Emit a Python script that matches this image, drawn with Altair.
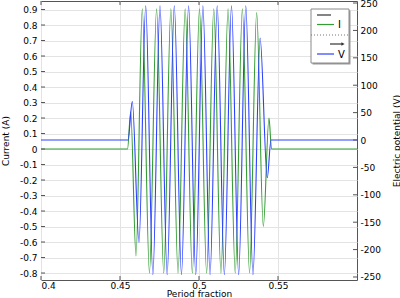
import altair as alt
import pandas as pd

# ---- data ----
t_current = [0.4, 0.45475, 0.45677, 0.46013, 0.4641, 0.46863, 0.47315, 0.47768, 0.4822,
             0.48673, 0.49125, 0.49578, 0.5003, 0.50483, 0.50935, 0.51388, 0.5184,
             0.52293, 0.52745, 0.53198, 0.5365, 0.5407, 0.5443, 0.5459, 0.6]
current = [0.0, 0.0, 0.24, -0.69, 0.905, -0.80, 0.905, -0.80, 0.905,
           -0.80, 0.905, -0.80, 0.905, -0.80, 0.905, -0.80, 0.905,
           -0.80, 0.905, -0.80, 0.88, -0.50, 0.20, 0.0, 0.0]

t_voltage = [0.4, 0.45506, 0.45778, 0.46203, 0.46627, 0.4708, 0.47532, 0.47985, 0.48437,
             0.4889, 0.49342, 0.49795, 0.50247, 0.507, 0.51152, 0.51605, 0.52057,
             0.5251, 0.52962, 0.53415, 0.53867, 0.5432, 0.54557, 0.6]
voltage = [0, 0, 70, -187, 245, -246, 245, -246, 245,
           -246, 245, -246, 245, -246, 245, -246, 245,
           -246, 245, -246, 186, -69, 0, 0]

x_ticks = [0.4, 0.45, 0.5, 0.55]
i_ticks = [-0.8, -0.7, -0.6, -0.5, -0.4, -0.3, -0.2, -0.1, 0, 0.1, 0.2, 0.3, 0.4, 0.5, 0.6, 0.7, 0.8, 0.9]
v_ticks = [-250, -200, -150, -100, -50, 0, 50, 100, 150, 200, 250]
legend_labels = ["I", "V"]

# ---- layout / style ----
W, H = 316, 279
X_DOMAIN = [0.4, 0.6]
I_DOMAIN = [-0.845, 0.955]
V_DOMAIN = [-255.5, 253.7]
FONT = "DejaVu Sans"
GREEN = "#349c34"
BLUE = "#2a40ff"
FRAME = "#555555"

df_i = pd.DataFrame({"t": t_current, "I": current})
df_v = pd.DataFrame({"t": t_voltage, "V": voltage})
df_xt = pd.DataFrame({"v": x_ticks})
df_it = pd.DataFrame({"v": i_ticks})
df_vt = pd.DataFrame({"v": v_ticks})
one = pd.DataFrame({"a": [0]})

xs = alt.Scale(domain=X_DOMAIN, nice=False, zero=False)
ys_i = alt.Scale(domain=I_DOMAIN, nice=False, zero=False)
ys_v = alt.Scale(domain=V_DOMAIN, nice=False, zero=False)

xaxis = alt.Axis(values=x_ticks, format="~g", title="Period fraction", grid=True,
                 gridColor="#e3e3e3", ticks=False, domain=False, labelPadding=1,
                 labelFont=FONT, labelFontSize=9, labelColor="#000",
                 titleFont=FONT, titleFontSize=9, titleFontWeight="normal", titleColor="#000",
                 titleX=W / 2, titleY=16.5, titleBaseline="alphabetic")


def X(field):
    return alt.X(field, type="quantitative", scale=xs, axis=xaxis)


left_axis = alt.Axis(values=i_ticks, title="Current (A)", grid=True, gridColor="#e3e3e3",
                     ticks=False, domain=False, labelPadding=4,
                     labelExpr="datum.value == 0 ? '0' : (datum.value < 0 ? '-' : '') + format(abs(datum.value), '.1f')",
                     labelFont=FONT, labelFontSize=9, labelColor="#000",
                     titleFont=FONT, titleFontSize=9, titleFontWeight="normal", titleColor="#000",
                     titleAngle=270, titleX=-36, titleY=H / 2, titleBaseline="middle", titleAlign="center")

right_axis = alt.Axis(orient="right", values=v_ticks, title="Electric potential (V)", grid=False,
                      ticks=False, domain=False, labelPadding=3,
                      labelExpr="(datum.value < 0 ? '-' : '') + format(abs(datum.value), 'd')",
                      labelFont=FONT, labelFontSize=9, labelColor="#000",
                      titleFont=FONT, titleFontSize=9, titleFontWeight="normal", titleColor="#000",
                      titleAngle=270, titleX=39, titleY=H / 2, titleBaseline="middle", titleAlign="center")

line_i = alt.Chart(df_i).mark_line(color=GREEN, strokeWidth=1.1, interpolate="monotone").encode(
    x=X("t"), y=alt.Y("I", type="quantitative", scale=ys_i, axis=left_axis))
line_v = alt.Chart(df_v).mark_line(color=BLUE, strokeWidth=1.1, interpolate="monotone").encode(
    x=X("t"), y=alt.Y("V", type="quantitative", scale=ys_v, axis=right_axis))

tick_l = alt.Chart(df_it).mark_rule(color=FRAME).encode(
    y=alt.Y("v", type="quantitative", scale=ys_i, axis=None), x=alt.value(0), x2=alt.value(4))
tick_r = alt.Chart(df_vt).mark_rule(color=FRAME).encode(
    y=alt.Y("v", type="quantitative", scale=ys_v, axis=None), x=alt.value(W), x2=alt.value(W - 4))
tick_b = alt.Chart(df_xt).mark_rule(color=FRAME).encode(
    x=X("v"), y=alt.value(H), y2=alt.value(H - 4))
tick_t = alt.Chart(df_xt).mark_rule(color=FRAME).encode(
    x=X("v"), y=alt.value(0), y2=alt.value(4))

# ---- legend box (COMSOL style) ----
LX0, LX1, LY0, LY1 = 270, 308, 8, 62
shadow = alt.Chart(one).mark_rect(color="#9a9a9a").encode(
    x=alt.value(LX0 + 1.5), x2=alt.value(LX1 + 1.5), y=alt.value(LY0 + 1.5), y2=alt.value(LY1 + 1.5))
box = alt.Chart(one).mark_rect(fill="white", stroke="#8a8a8a", strokeWidth=1).encode(
    x=alt.value(LX0), x2=alt.value(LX1), y=alt.value(LY0), y2=alt.value(LY1))
leg_black1 = alt.Chart(one).mark_rule(color="#333333", strokeWidth=1.2).encode(
    x=alt.value(276), x2=alt.value(290), y=alt.value(14))
leg_green = alt.Chart(one).mark_rule(color=GREEN, strokeWidth=1.2).encode(
    x=alt.value(276), x2=alt.value(293), y=alt.value(23.5))
leg_dot = alt.Chart(one).mark_rule(color="#777777", strokeWidth=1, strokeDash=[1, 2]).encode(
    x=alt.value(LX0), x2=alt.value(LX1), y=alt.value(34))
leg_arrow = alt.Chart(one).mark_rule(color="#333333", strokeWidth=1.2).encode(
    x=alt.value(289), x2=alt.value(301), y=alt.value(43))
leg_head = alt.Chart(one).mark_point(shape="triangle-right", filled=True, color="#333333",
                                      size=14, opacity=1).encode(x=alt.value(302), y=alt.value(43))
leg_blue = alt.Chart(one).mark_rule(color=BLUE, strokeWidth=1.2).encode(
    x=alt.value(276), x2=alt.value(293), y=alt.value(53))
leg_text_i = alt.Chart(one).mark_text(font=FONT, fontSize=10, align="left", baseline="middle",
                                       color="#000").encode(
    x=alt.value(297), y=alt.value(24), text=alt.value(legend_labels[0]))
leg_text_v = alt.Chart(one).mark_text(font=FONT, fontSize=10, align="left", baseline="middle",
                                       color="#000").encode(
    x=alt.value(297), y=alt.value(53.5), text=alt.value(legend_labels[1]))

chart = alt.layer(
    line_i, line_v, tick_l, tick_r, tick_b, tick_t,
    shadow, box, leg_black1, leg_green, leg_dot, leg_arrow, leg_head, leg_blue,
    leg_text_i, leg_text_v,
).resolve_scale(y="independent").properties(
    width=W, height=H,
    autosize=alt.AutoSizeParams(type="none"),
    padding={"left": 41, "top": 1, "right": 43, "bottom": 18},
    background="white",
).configure_view(stroke=FRAME, strokeWidth=1)

chart.save("out.html", embed_options={"renderer": "svg", "actions": False})
